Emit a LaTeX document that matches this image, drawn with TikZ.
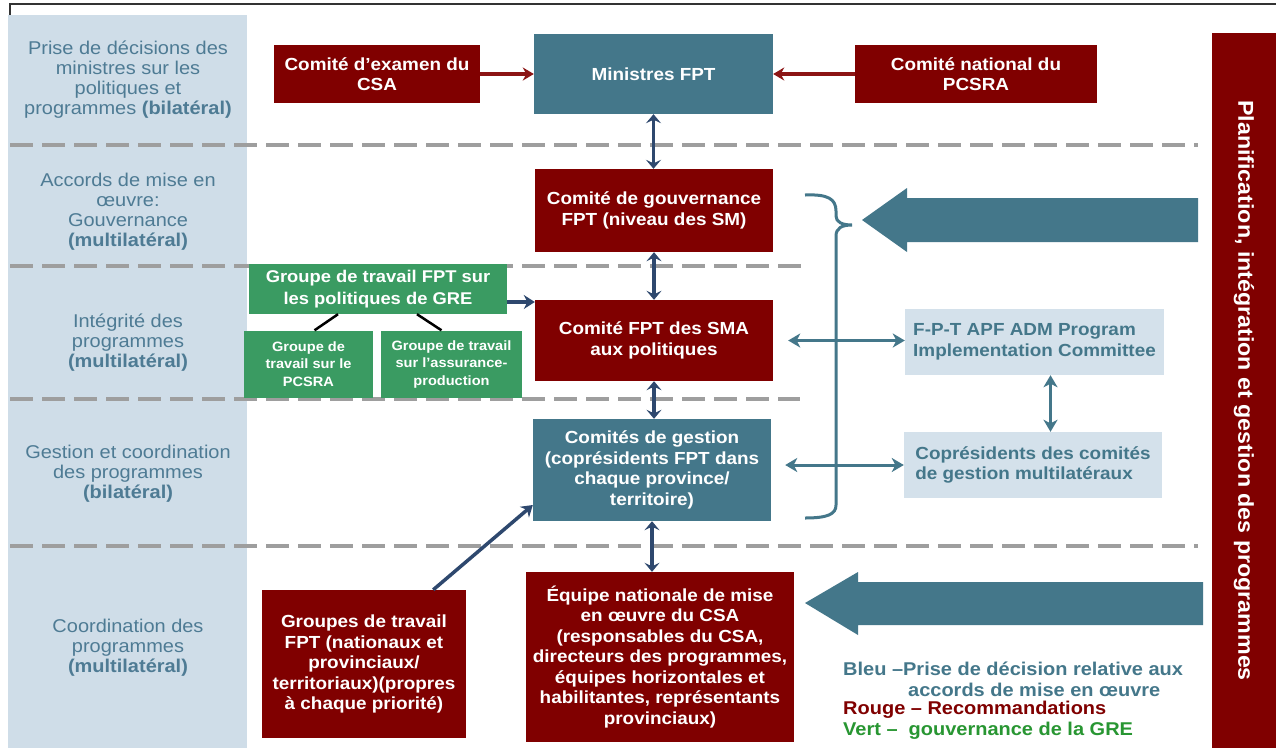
\documentclass[tikz,border=0pt]{standalone}
\usepackage{fontspec}
\setmainfont{Liberation Sans}[FakeStretch=1.08]
\usetikzlibrary{arrows.meta}
\definecolor{dred}{RGB}{128,0,0}
\definecolor{teal1}{RGB}{68,119,138}
\definecolor{navy1}{RGB}{46,72,110}
\definecolor{green1}{RGB}{58,155,98}
\definecolor{colbg}{RGB}{207,221,232}
\definecolor{lbox}{RGB}{212,225,235}
\definecolor{ltxt}{RGB}{78,123,148}
\definecolor{dashgray}{RGB}{158,158,158}
\definecolor{arrred}{RGB}{140,20,20}
\definecolor{leggreen}{RGB}{40,150,50}
\begin{document}
\begin{tikzpicture}[x=1pt,y=-1pt,
  boxbase/.style={inner sep=0pt, align=center, font=\bfseries\fontsize{17.5}{20.5}\selectfont},
  redbox/.style={boxbase, fill=dred, text=white},
  tealbox/.style={boxbase, fill=teal1, text=white},
  greenbox/.style={boxbase, fill=green1, text=white},
  lightbox/.style={boxbase, fill=lbox, text=teal1, align=left},
  lefttext/.style={inner sep=0pt, align=center, text=ltxt, font=\fontsize{18.5}{20}\selectfont},
  dashline/.style={draw=dashgray, line width=4pt, dash pattern=on 23pt off 9pt},
  navydbl/.style={draw=navy1, line width=3.5pt, {Stealth[length=9pt,width=15pt,inset=3.5pt]}-{Stealth[length=9pt,width=15pt,inset=3.5pt]}},
  navysgl/.style={draw=navy1, line width=3.5pt, -{Stealth[length=11pt,width=14pt,inset=3.5pt]}},
  redarr/.style={draw=arrred, line width=3.5pt, -{Stealth[length=11pt,width=13pt,inset=3.5pt]}},
  tealdbl/.style={draw=teal1, line width=3pt, {Stealth[length=12pt,width=14pt,inset=3.5pt]}-{Stealth[length=12pt,width=14pt,inset=3.5pt]}},
  legtext/.style={inner sep=0pt, anchor=west, font=\bfseries\fontsize{18.5}{20}\selectfont}
]
\useasboundingbox (0,0) rectangle (1276,748);
\fill[white] (0,0) rectangle (1276,748);
% left column
\fill[colbg] (8,15) rectangle (247,748);
\draw[line width=2pt, black!80] (10,15) -- (10,4) -- (1276,4);
% dashed separators
\draw[dashline] (10,145) -- (1198,145);
\draw[dashline] (10,266) -- (805,266);
\draw[dashline] (10,399) -- (800,399);
\draw[dashline] (10,546) -- (1198,546);
% left labels
\node[lefttext] (l1) at (128,80) {Prise de décisions des\\ministres sur les\\politiques et\\programmes \textbf{(bilatéral)}};
\node[lefttext] (l2) at (128,212) {Accords de mise en\\œuvre:\\Gouvernance\\\textbf{(multilatéral)}};
\node[lefttext] (l3) at (128,343) {Intégrité des\\programmes\\\textbf{(multilatéral)}};
\node[lefttext] (l4) at (128,474) {Gestion et coordination\\des programmes\\\textbf{(bilatéral)}};
\node[lefttext] (l5) at (128,648) {Coordination des\\programmes\\\textbf{(multilatéral)}};
% big block arrows
\fill[teal1] (1198,198) -- (907,198) -- (907,188) -- (862,220) -- (907,252) -- (907,242) -- (1198,242) -- cycle;
\fill[teal1] (1203,582) -- (858,582) -- (858,572) -- (805,603) -- (858,635) -- (858,625) -- (1203,625) -- cycle;
% brace
\draw[teal1, line width=3pt] (805,195) .. controls (828,194) and (836,199) .. (836,211) -- (836,216) .. controls (836,222) and (842,225) .. (852,225) .. controls (842,225) and (836,228) .. (836,236) -- (836,505) .. controls (836,514) and (828,518) .. (805,518);
% boxes
\node[redbox, minimum width=206pt, minimum height=58pt] (csa) at (377,74) {Comité d'examen du\\CSA};
\node[tealbox, minimum width=239pt, minimum height=80pt] (min) at (653.5,74) {Ministres FPT};
\node[redbox, minimum width=242pt, minimum height=58pt] (pcsra) at (976,74) {Comité national du\\PCSRA};
\node[redbox, minimum width=238pt, minimum height=83pt] (gov) at (654,210.5) {Comité de gouvernance\\FPT (niveau des SM)};
\node[redbox, minimum width=238pt, minimum height=81pt] (sma) at (654,340.5) {Comité FPT des SMA\\aux politiques};
\node[tealbox, minimum width=238pt, minimum height=102pt] (gest) at (652,470) {Comités de gestion\\(coprésidents FPT dans\\chaque province/\\territoire)};
\node[redbox, minimum width=268pt, minimum height=170pt] (eq) at (660,657) {Équipe nationale de mise\\en œuvre du CSA\\(responsables du CSA,\\directeurs des programmes,\\équipes horizontales et\\habilitantes, représentants\\provinciaux)};
\node[redbox, minimum width=204pt, minimum height=148pt] (gt) at (364,664) {Groupes de travail\\FPT (nationaux et\\provinciaux/\\territoriaux)(propres\\à chaque priorité)};
\node[greenbox, minimum width=258pt, minimum height=50pt, font=\bfseries\fontsize{17}{22}\selectfont] (gre) at (378,289) {Groupe de travail FPT sur\\les politiques de GRE};
\node[greenbox, minimum width=129pt, minimum height=67pt, font=\bfseries\fontsize{13.5}{17.5}\selectfont] (g1) at (308.5,364) {Groupe de\\travail sur le\\PCSRA};
\node[greenbox, minimum width=141pt, minimum height=67pt, font=\bfseries\fontsize{13.5}{17.5}\selectfont] (g2) at (451.5,364) {Groupe de travail\\sur l'assurance-\\production};
\node[lightbox, minimum width=259pt, minimum height=66pt] (fpt) at (1034.5,342) {F-P-T APF ADM Program\\Implementation Committee};
\node[lightbox, minimum width=258pt, minimum height=66pt] (cop) at (1033,465) {Coprésidents des comités\\de gestion multilatéraux};
% right bar
\node[fill=dred, text=white, rotate=-90, minimum width=715pt, minimum height=64pt, inner sep=0pt, font=\bfseries\fontsize{21.5}{24}\selectfont] (bar) at (1244,390.5) {Planification, intégration et gestion des programmes};
% connectors
\draw[redarr] (csa.east) -- (min.west);
\draw[redarr] (pcsra.west) -- (min.east);
\draw[navydbl] (min.south) -- (min.south |- gov.north);
\draw[navydbl] (gov.south) -- (gov.south |- sma.north);
\draw[navydbl] (sma.south) -- (sma.south |- gest.north);
\draw[navydbl] (gest.south) -- (gest.south |- eq.north);
\draw[navysgl] ([xshift=-33pt]gt.north east) -- ([yshift=-35pt]gest.west);
\draw[navysgl] ([yshift=-13pt]gre.east) -- ([yshift=-13pt]gre.east -| sma.west);
\draw[black, line width=2.5pt] ([xshift=-40pt]gre.south) -- ([xshift=6pt]g1.north);
\draw[black, line width=2.5pt] ([xshift=39pt]gre.south) -- ([xshift=-10pt]g2.north);
\draw[tealdbl] ([xshift=15pt]sma.east) -- (sma.east -| fpt.west);
\draw[tealdbl] ([xshift=14pt]gest.east |- cop.west) -- (cop.west);
\draw[tealdbl] ([xshift=16pt]fpt.south) -- ([xshift=16pt]fpt.south |- cop.north);
% legend
\node[legtext, text=teal1] (leg1) at (843,669) {Bleu –Prise de décision relative aux};
\node[legtext, text=teal1] (leg2) at (908,690) {accords de mise en œuvre};
\node[legtext, text=dred] (leg3) at (843,710) {Rouge – Recommandations};
\node[legtext, text=leggreen] (leg4) at (843,731) {Vert –\ \ gouvernance de la GRE};
\end{tikzpicture}
\end{document}
